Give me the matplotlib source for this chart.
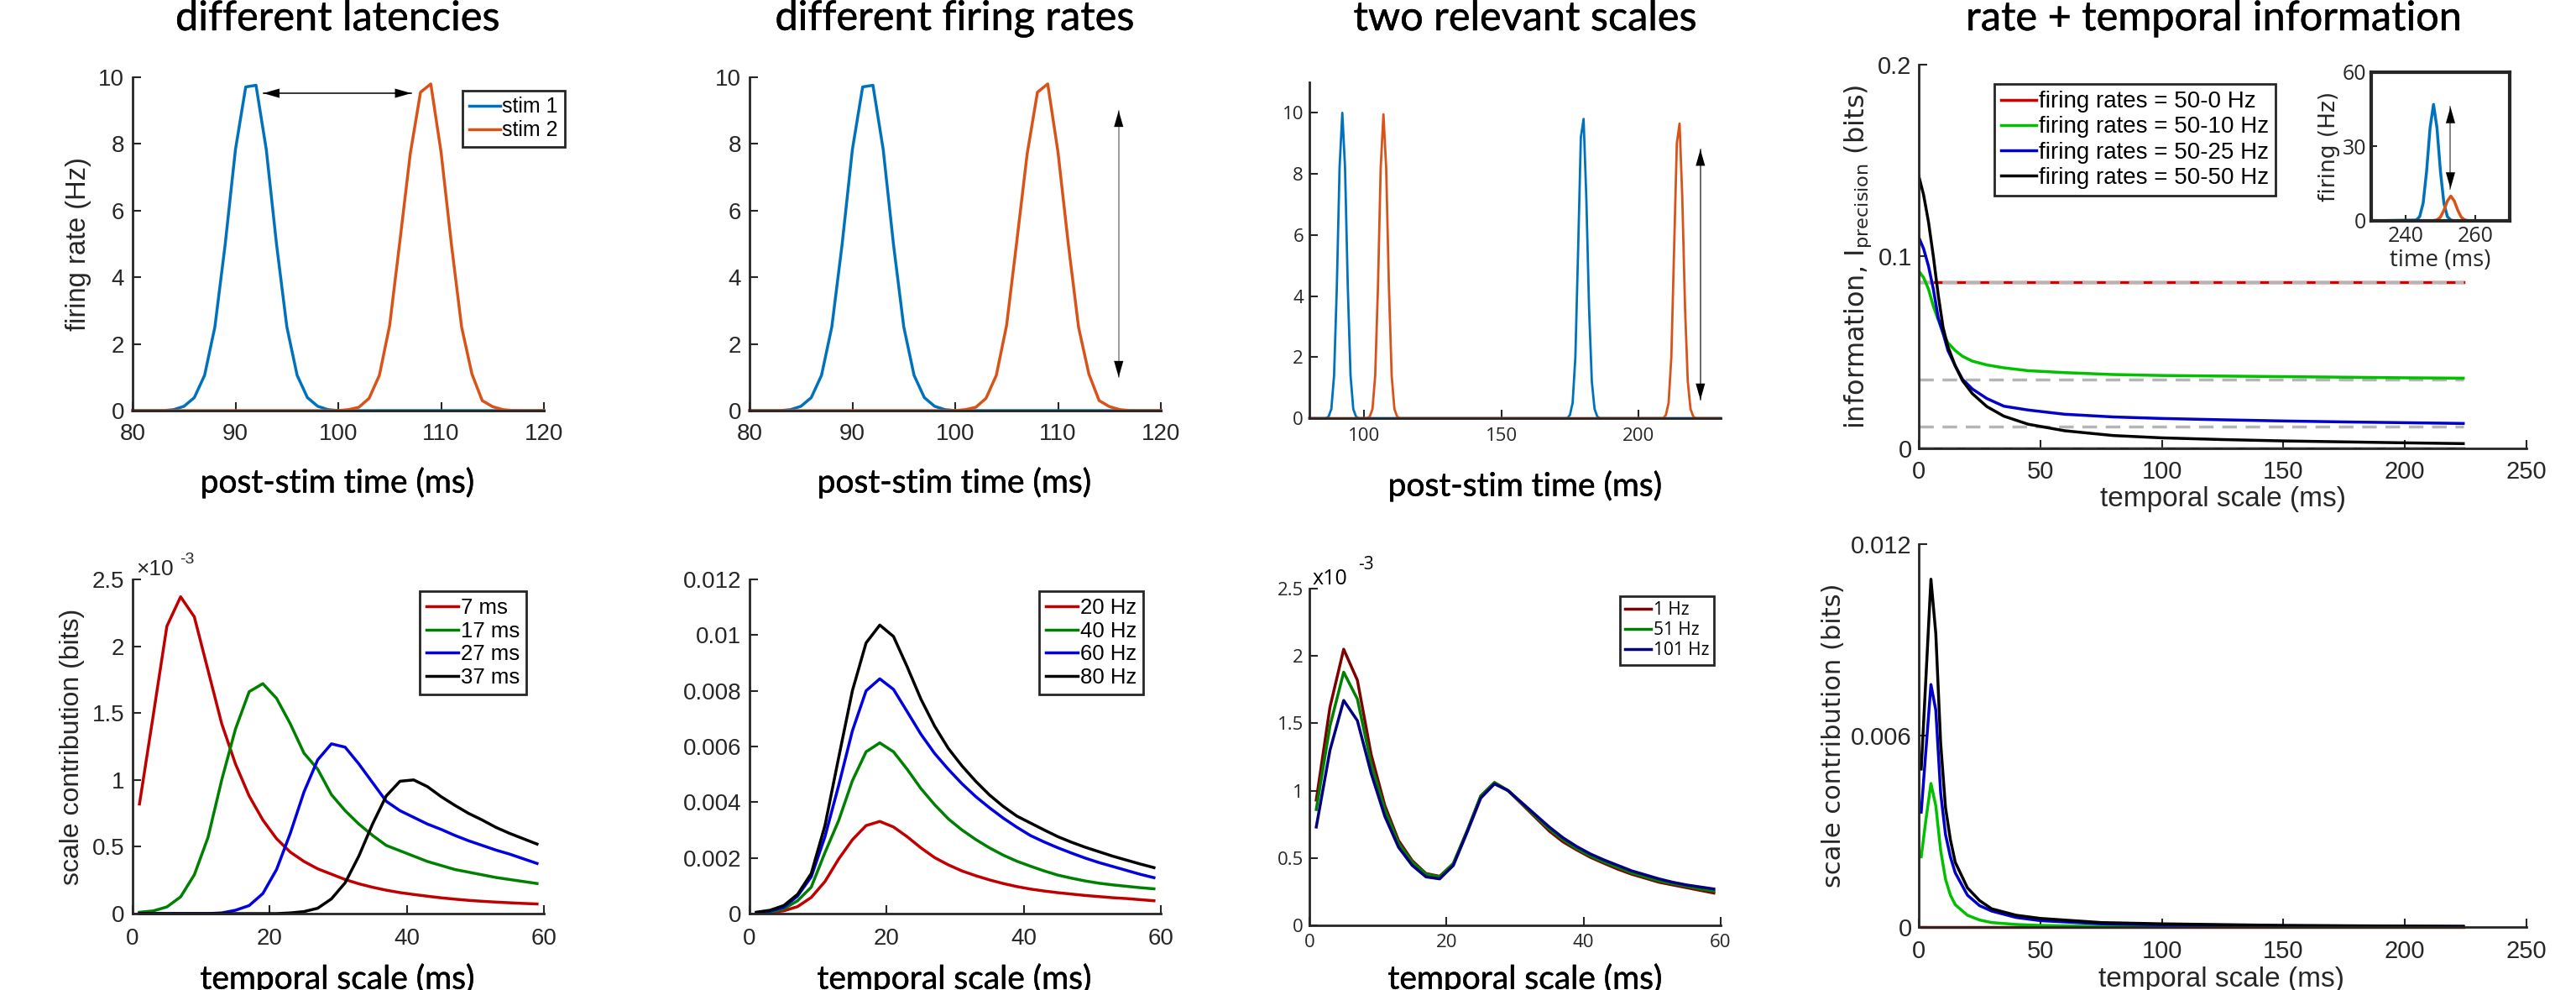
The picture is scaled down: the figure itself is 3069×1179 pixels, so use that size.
import matplotlib
matplotlib.use('Agg')
import matplotlib.pyplot as plt
import matplotlib.patheffects as pe

plt.rcParams['mathtext.fontset'] = 'dejavusans'

# ---- data ----
t_top = list(range(80, 121))
stim1 = [0, 0, 0, 0, 0.03, 0.13, 0.39, 1.06, 2.51, 4.98, 7.83, 9.71, 9.76, 7.83, 4.98, 2.51,
         1.06, 0.39, 0.13, 0.03] + [0] * 21
stim2 = [0] * 21 + [0.03, 0.1, 0.37, 1.06, 2.56, 5.1, 7.7, 9.55, 9.8, 7.75, 5.0, 2.5, 1.1,
                    0.3, 0.12, 0.03, 0, 0, 0, 0]

t_two_blue = [80, 86, 87, 88, 89, 90, 91, 92, 93, 94, 95, 96, 97, 98,
              174, 175, 176, 177, 178, 179, 180, 181, 182, 183, 184, 185, 186, 230]
two_blue = [0, 0, 0.05, 0.3, 1.4, 4.3, 8.2, 10.0, 8.2, 4.3, 1.4, 0.3, 0.05, 0,
            0, 0.1, 0.5, 2.0, 5.5, 9.2, 9.8, 7.2, 3.6, 1.2, 0.3, 0.05, 0, 0]
t_two_orange = [80, 101, 102, 103, 104, 105, 106, 107, 108, 109, 110, 111, 112, 113,
                209, 210, 211, 212, 213, 214, 215, 216, 217, 218, 219, 220, 221, 230]
two_orange = [0, 0, 0.05, 0.3, 1.4, 4.3, 8.2, 9.95, 8.2, 4.3, 1.4, 0.3, 0.05, 0,
              0, 0.1, 0.5, 2.0, 5.5, 9.0, 9.65, 7.2, 3.6, 1.2, 0.3, 0.05, 0, 0]

scale_x = list(range(1, 60, 2))
# latency panel (x1e-3 bits)
lat_labels = ['7 ms', '17 ms', '27 ms', '37 ms']
lat_7 = [0.82, 1.48, 2.15, 2.37, 2.22, 1.82, 1.42, 1.12, 0.88, 0.70, 0.56, 0.46, 0.39, 0.335,
         0.295, 0.255, 0.223, 0.197, 0.175, 0.157, 0.143, 0.13, 0.118, 0.108, 0.099, 0.092,
         0.086, 0.081, 0.076, 0.072]
lat_17 = [0.01, 0.02, 0.05, 0.125, 0.29, 0.57, 1.0, 1.38, 1.66, 1.72, 1.61, 1.42, 1.2, 1.08,
          0.89, 0.77, 0.67, 0.585, 0.51, 0.47, 0.43, 0.39, 0.36, 0.33, 0.31, 0.29, 0.27,
          0.255, 0.24, 0.225]
lat_27 = [0, 0, 0, 0, 0, 0, 0.005, 0.025, 0.06, 0.15, 0.33, 0.60, 0.91, 1.15, 1.27, 1.245,
          1.12, 0.98, 0.84, 0.77, 0.72, 0.67, 0.63, 0.585, 0.545, 0.51, 0.475, 0.445, 0.41,
          0.375]
lat_37 = [0, 0, 0, 0, 0, 0, 0, 0, 0, 0, 0, 0.005, 0.015, 0.04, 0.11, 0.23, 0.43, 0.67, 0.88,
          0.99, 1.0, 0.95, 0.875, 0.81, 0.75, 0.70, 0.645, 0.60, 0.56, 0.52]

rate_labels = ['20 Hz', '40 Hz', '60 Hz', '80 Hz']
rate_20 = [0.00001, 0.00004, 0.0001, 0.00025, 0.00058, 0.00115, 0.00196, 0.00265, 0.00316,
           0.00331, 0.00311, 0.00276, 0.00236, 0.00201, 0.00175, 0.00153, 0.00136, 0.00121,
           0.00108, 0.00097, 0.00088, 0.00081, 0.00075, 0.0007, 0.00065, 0.00061, 0.00057,
           0.00054, 0.0005, 0.00046]
rate_40 = [0.00002, 0.00006, 0.00017, 0.00046, 0.00095, 0.00219, 0.00334, 0.00477, 0.00581,
           0.00613, 0.00581, 0.00518, 0.00449, 0.00391, 0.0034, 0.003, 0.00266, 0.00236,
           0.0021, 0.00188, 0.0017, 0.00153, 0.00138, 0.00127, 0.00117, 0.00109, 0.00103,
           0.00098, 0.00093, 0.00089]
rate_60 = [0.00003, 0.00009, 0.00023, 0.00063, 0.00132, 0.00276, 0.0046, 0.00656, 0.008,
           0.00843, 0.00805, 0.00725, 0.00644, 0.00575, 0.00518, 0.00466, 0.0042, 0.0038,
           0.00343, 0.0031, 0.0028, 0.00257, 0.00236, 0.00217, 0.00199, 0.00183, 0.00169,
           0.00155, 0.00141, 0.00129]
rate_80 = [0.00005, 0.00012, 0.00029, 0.00069, 0.00144, 0.00316, 0.0056, 0.008, 0.00972,
           0.01036, 0.00995, 0.00886, 0.0077, 0.00673, 0.00593, 0.0053, 0.00475, 0.00426,
           0.00385, 0.0035, 0.00325, 0.003, 0.00276, 0.00256, 0.00238, 0.00222, 0.00206,
           0.00192, 0.00178, 0.00165]

two_labels = ['1 Hz', '51 Hz', '101 Hz']
two_1 = [0.93, 1.62, 2.05, 1.82, 1.27, 0.89, 0.63, 0.48, 0.385, 0.364, 0.457, 0.70, 0.96, 1.06,
         1.0, 0.9, 0.8, 0.70, 0.62, 0.56, 0.505, 0.46, 0.417, 0.38, 0.35, 0.32, 0.30, 0.28,
         0.26, 0.24]
two_51 = [0.86, 1.48, 1.88, 1.68, 1.2, 0.86, 0.61, 0.47, 0.38, 0.36, 0.46, 0.70, 0.96, 1.06,
          1.0, 0.905, 0.81, 0.715, 0.635, 0.57, 0.515, 0.47, 0.43, 0.39, 0.36, 0.33, 0.31,
          0.29, 0.27, 0.255]
two_101 = [0.73, 1.30, 1.67, 1.52, 1.13, 0.81, 0.58, 0.445, 0.36, 0.345, 0.445, 0.69, 0.945,
           1.05, 1.0, 0.91, 0.82, 0.73, 0.65, 0.585, 0.53, 0.485, 0.445, 0.405, 0.375, 0.345,
           0.32, 0.30, 0.285, 0.27]

info_labels = ['firing rates = 50-0 Hz', 'firing rates = 50-10 Hz',
               'firing rates = 50-25 Hz', 'firing rates = 50-50 Hz']
info_x = [0, 2, 4, 6, 8, 10, 12, 15, 18, 22, 28, 35, 45, 60, 80, 100, 125, 150, 175, 200, 224]
info_0 = [0.0865] * 21
info_10 = [0.0924, 0.089, 0.083, 0.074, 0.067, 0.060, 0.055, 0.051, 0.048, 0.0455, 0.0435,
           0.042, 0.0405, 0.0395, 0.0385, 0.038, 0.0377, 0.0374, 0.0371, 0.0368, 0.0366]
info_25 = [0.110, 0.104, 0.095, 0.083, 0.068, 0.060, 0.051, 0.043, 0.036, 0.031, 0.026,
           0.022, 0.020, 0.0178, 0.0164, 0.0156, 0.0149, 0.0143, 0.0138, 0.0134, 0.013]
info_50 = [0.142, 0.132, 0.118, 0.100, 0.080, 0.063, 0.053, 0.043, 0.0353, 0.0286, 0.0218,
           0.0168, 0.0126, 0.0092, 0.0067, 0.0055, 0.0046, 0.0039, 0.0034, 0.0029, 0.0025]
rate_only = [0.0865, 0.0357, 0.0115, 0]

contrib_x = [1, 3, 5, 7, 9, 11, 13, 15, 20, 25, 30, 40, 50, 75, 100, 150, 224]
contrib_0 = [0] * 17
contrib_10 = [0.0022, 0.0034, 0.0045, 0.0038, 0.0024, 0.0015, 0.001, 0.0007, 0.00037,
              0.00022, 0.00014, 0.00008, 0.00005, 0.00002, 0.00001, 0, 0]
contrib_25 = [0.0036, 0.0056, 0.0076, 0.0068, 0.0042, 0.0029, 0.0022, 0.0017, 0.001, 0.00067,
              0.0005, 0.0003, 0.0002, 0.0001, 0.00007, 0.00004, 0.00002]
contrib_50 = [0.00495, 0.0079, 0.0109, 0.0092, 0.00576, 0.00374, 0.00274, 0.00203, 0.00123,
              0.00083, 0.00057, 0.00037, 0.00027, 0.00014, 0.0001, 0.00005, 0.00002]

inset_x = [230, 243, 244, 245, 246, 247, 248, 249, 250, 251, 252, 253, 254, 255, 256, 257,
           258, 270]
inset_blue = [0, 0.3, 1.7, 7.1, 20, 37.5, 47, 37.5, 20, 7.1, 1.7, 0.3, 0, 0, 0, 0, 0, 0]
inset_orange = [0, 0, 0, 0, 0, 0, 0.06, 0.4, 1.5, 4.3, 8.0, 10, 8.0, 4.3, 1.5, 0.4, 0.06, 0]

# ---- style ----
DARK = '#262626'
BLUE, ORANGE = '#0072BD', '#D95319'
HELV = ['Liberation Sans', 'DejaVu Sans']
CALI = ['Lato', 'DejaVu Sans']
OPEN = ['Open Sans', 'DejaVu Sans']
DEJA = ['DejaVu Sans']
HEAVY = [pe.withStroke(linewidth=0.35, foreground='k')]

W, H = 3069, 1179
fig = plt.figure(figsize=(W / 100, H / 100), dpi=100)


def box(l, t, r, b):
    ax = fig.add_axes([l / W, 1 - b / H, (r - l) / W, (b - t) / H])
    ax.patch.set_alpha(0)
    return ax


def txt(x, y, s, **kw):
    return fig.text(x / W, 1 - y / H, s, **kw)


def style(ax, fam, size, xpad, ypad):
    for s in ('top', 'right'):
        ax.spines[s].set_visible(False)
    for s in ('left', 'bottom'):
        ax.spines[s].set_linewidth(2)
        ax.spines[s].set_color(DARK)
    ax.tick_params(direction='in', length=7, width=1.5, colors=DARK, labelsize=size)
    ax.tick_params(axis='x', pad=xpad)
    ax.tick_params(axis='y', pad=ypad)
    for lab in ax.get_xticklabels() + ax.get_yticklabels():
        lab.set_family(fam)


def leg(ax, x, y, fam, size, **kw):
    lg = ax.legend(loc='upper left', bbox_to_anchor=(x / W, 1 - y / H),
                   bbox_transform=fig.transFigure, prop={'family': fam, 'size': size},
                   fancybox=False, borderaxespad=0, handlelength=1.5, handletextpad=0.1,
                   borderpad=0.3, labelspacing=0.15, framealpha=1, **kw)
    lg.get_frame().set_edgecolor(DARK)
    lg.get_frame().set_linewidth(2)


def arrow(ax, p0, p1, line='k'):
    ax.plot([p0[0], p1[0]], [p0[1], p1[1]], color=line, lw=1.1)
    ax.annotate('', xy=p1, xytext=p0,
                arrowprops=dict(arrowstyle='<|-|>,head_length=0.7,head_width=0.2',
                                color='k', lw=0, mutation_scale=20, shrinkA=0, shrinkB=0))


# ---- top row: firing rates ----
for i, l in enumerate([158, 893]):
    ax = box(l, 92, l + 490, 489)
    ax.plot(t_top, stim1, color=BLUE, lw=2.5, label='stim 1', clip_on=False)
    ax.plot(t_top, stim2, color=ORANGE, lw=2.5, label='stim 2', clip_on=False)
    ax.set_xlim(80, 120)
    ax.set_ylim(0, 10)
    ax.set_xticks([80, 90, 100, 110, 120])
    ax.set_yticks([0, 2, 4, 6, 8, 10])
    style(ax, HELV, 20, 11, 7)
    if i == 0:
        arrow(ax, (92.7, 9.52), (107.1, 9.52))
        ax.set_ylabel('firing rate (Hz)', family=HELV, fontsize=23.5, color=DARK, labelpad=6)
        leg(ax, 551, 108, HELV, 18)
    else:
        arrow(ax, (115.9, 1.0), (115.9, 9.0), line='#808080')

ax = box(1560, 98, 2050, 498)
ax.plot(t_two_blue, two_blue, color=BLUE, lw=2, clip_on=False)
ax.plot(t_two_orange, two_orange, color=ORANGE, lw=2, clip_on=False)
ax.set_xlim(80, 230)
ax.set_ylim(0, 11)
ax.set_xticks([100, 150, 200])
ax.set_yticks([0, 2, 4, 6, 8, 10])
style(ax, OPEN, 16, 8, 5)
arrow(ax, (222.6, 0.6), (222.6, 8.8), line='#404040')

# ---- top right: information vs temporal scale ----
ax = box(2286, 77, 3010, 534)
cols4 = ['#d00000', '#00c000', '#0000c8', 'k']
ax.plot(info_x, info_0, color=cols4[0], lw=2.5, label=info_labels[0])
for r in rate_only:
    if r == 0:
        ax.plot([0, 224], [r, r], color='k', lw=2.5)
    ax.plot([0, 224], [r, r], color='#b5b5b5', lw=2.5, dashes=(5, 3))
for ys, c, lab in zip([info_10, info_25, info_50], cols4[1:], info_labels[1:]):
    ax.plot(info_x, ys, color=c, lw=2.5, label=lab)
ax.set_xlim(0, 250)
ax.set_ylim(0, 0.2)
ax.set_xticks([0, 50, 100, 150, 200, 250])
ax.set_yticks([0, 0.1, 0.2])
ax.set_yticklabels(['0', '0.1', '0.2'])
style(ax, HELV, 21, 10, 6)
ax.set_ylabel(r'information, I$_{\mathrm{precision}}$ (bits)', family=DEJA, fontsize=23,
              color=DARK, labelpad=4)
ax.set_xlabel('temporal scale (ms)', family=HELV, fontsize=24, color=DARK, labelpad=2)
leg(ax, 2376, 100, HELV, 20)

ins = box(2825, 86, 2990, 263)
ins.plot(inset_x, inset_blue, color=BLUE, lw=2.5)
ins.plot(inset_x, inset_orange, color=ORANGE, lw=2.5)
ins.set_xlim(230, 270)
ins.set_ylim(0, 60)
ins.set_xticks([240, 260])
ins.set_yticks([0, 30, 60])
ins.tick_params(direction='in', length=5, width=1.5, colors=DARK, labelsize=18, pad=4)
for lab in ins.get_xticklabels() + ins.get_yticklabels():
    lab.set_family(OPEN)
for s in ins.spines.values():
    s.set_linewidth(3)
    s.set_color(DARK)
arrow(ins, (252.9, 13), (252.9, 46), line='#606060')
ins.set_ylabel('firing (Hz)', family=DEJA, fontsize=19, color=DARK, labelpad=2)
ins.set_xlabel('time (ms)', family=OPEN, fontsize=20, color=DARK, labelpad=2)

# ---- bottom row ----
cols = ['#c00000', '#008000', '#0000e0', 'k']
ax = box(158, 690, 648, 1088)
for ys, c, lab in zip([lat_7, lat_17, lat_27, lat_37], cols, lat_labels):
    ax.plot(scale_x, ys, color=c, lw=2.5, label=lab, clip_on=False)
ax.set_xlim(0, 60)
ax.set_ylim(0, 2.5)
ax.set_xticks([0, 20, 40, 60])
ax.set_yticks([0, 0.5, 1, 1.5, 2, 2.5])
ax.set_yticklabels(['0', '0.5', '1', '1.5', '2', '2.5'])
style(ax, HELV, 20, 12, 7)
ax.set_ylabel('scale contribution (bits)', family=HELV, fontsize=23, color=DARK, labelpad=6)
leg(ax, 500, 704, HELV, 18.5)
txt(162, 685, '\u00d710', family=HELV, fontsize=19, color=DARK, va='baseline')
txt(214, 671, '-3', family=HELV, fontsize=14, color=DARK, va='baseline')

ax = box(893, 690, 1383, 1088)
for ys, c, lab in zip([rate_20, rate_40, rate_60, rate_80], cols, rate_labels):
    ax.plot(scale_x, ys, color=c, lw=2.5, label=lab, clip_on=False)
ax.set_xlim(0, 60)
ax.set_ylim(0, 0.012)
ax.set_xticks([0, 20, 40, 60])
ax.set_yticks([0, 0.002, 0.004, 0.006, 0.008, 0.01, 0.012])
ax.set_yticklabels(['0', '0.002', '0.004', '0.006', '0.008', '0.01', '0.012'])
style(ax, HELV, 20, 12, 7)
leg(ax, 1238, 704, HELV, 18.5)

ax = box(1560, 701, 2050, 1102)
for ys, c, lab in zip([two_1, two_51, two_101], ['#800000', '#008000', '#000080'], two_labels):
    ax.plot(scale_x, ys, color=c, lw=2.5, label=lab, clip_on=False)
ax.set_xlim(0, 60)
ax.set_ylim(0, 2.5)
ax.set_xticks([0, 20, 40, 60])
ax.set_yticks([0, 0.5, 1, 1.5, 2, 2.5])
ax.set_yticklabels(['0', '0.5', '1', '1.5', '2', '2.5'])
style(ax, OPEN, 16, 7, 5)
leg(ax, 1930, 710, OPEN, 15)
txt(1564, 696, 'x10', family=OPEN, fontsize=18, color='k', va='baseline')
txt(1618, 678, '-3', family=OPEN, fontsize=15, color='k', va='baseline')

ax = box(2286, 648, 3010, 1104)
for ys, c in zip([contrib_0, contrib_10, contrib_25, contrib_50], cols4):
    ax.plot(contrib_x, ys, color=c, lw=2.5, clip_on=False)
ax.set_xlim(0, 250)
ax.set_ylim(0, 0.012)
ax.set_xticks([0, 50, 100, 150, 200, 250])
ax.set_yticks([0, 0.006, 0.012])
ax.set_yticklabels(['0', '0.006', '0.012'])
style(ax, HELV, 21, 11, 6)
ax.set_ylabel('scale contribution (bits)', family=DEJA, fontsize=22, color=DARK, labelpad=4)

# ---- titles and x labels ----
for x, s in [(402, 'different latencies'), (1137, 'different firing rates'),
             (1817, 'two relevant scales'), (2637, 'rate + temporal information')]:
    txt(x, 22, s, family=CALI, fontsize=35, ha='center', va='center', color='k',
        path_effects=HEAVY)
for x, y in [(402, 575), (1137, 575), (1817, 579)]:
    txt(x, y, 'post-stim time (ms)', family=CALI, fontsize=28, ha='center', va='center',
        color='k', path_effects=HEAVY)
for x in [402, 1137, 1817]:
    txt(x, 1166, 'temporal scale (ms)', family=CALI, fontsize=28, ha='center', va='center',
        color='k', path_effects=HEAVY)
txt(2647, 1166, 'temporal scale (ms)', family=HELV, fontsize=24, ha='center', va='center',
    color=DARK)

fig.savefig('out.png', dpi=100)
